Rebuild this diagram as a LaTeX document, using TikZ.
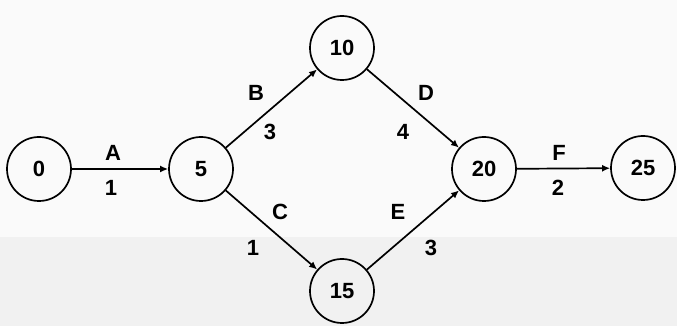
\documentclass[tikz,border=0pt]{standalone}
\usepackage{fontspec}
\setmainfont{Liberation Sans}
\usetikzlibrary{arrows.meta}
\definecolor{bgtop}{HTML}{FAFAFA}
\definecolor{bgbot}{HTML}{F1F1F1}
\begin{document}
\begin{tikzpicture}[x=1pt,y=1pt,
  evt/.style={circle,draw=black,line width=1.7pt,minimum size=64pt,inner sep=0pt,font=\fontsize{22}{24}\selectfont\bfseries},
  lbl/.style={inner sep=0pt,font=\fontsize{22}{24}\selectfont\bfseries},
  act/.style={line width=1.7pt,-{Latex[length=8pt,width=7pt]}}]
\fill[bgtop] (0,0) rectangle (677,326);
\fill[bgbot] (0,0) rectangle (677,89);
\useasboundingbox (0,0) rectangle (677,326);
\node[evt] (n0) at (39,157) {0};
\node[evt] (n5) at (201,157) {5};
\node[evt] (n10) at (342,278) {10};
\node[evt] (n20) at (484,157) {20};
\node[evt] (n25) at (643,158) {25};
\node[evt] (n15) at (342,35) {15};
\draw[act] (n0) -- (n5);
\draw[act] (n5) -- (n10);
\draw[act] (n5) -- (n15);
\draw[act] (n10) -- (n20);
\draw[act] (n15) -- (n20);
\draw[act] (n20) -- (n25);
\node[lbl] (la) at (113,173) {A};
\node[lbl] (l1a) at (111,138) {1};
\node[lbl] (lb) at (256,233) {B};
\node[lbl] (l3b) at (270,194) {3};
\node[lbl] (ld) at (426,233) {D};
\node[lbl] (l4d) at (403,194) {4};
\node[lbl] (lc) at (280,114) {C};
\node[lbl] (l1c) at (253,78) {1};
\node[lbl] (le) at (398,114) {E};
\node[lbl] (l3e) at (431,78) {3};
\node[lbl] (lf) at (559,173) {F};
\node[lbl] (l2f) at (558,138) {2};
\end{tikzpicture}
\end{document}
